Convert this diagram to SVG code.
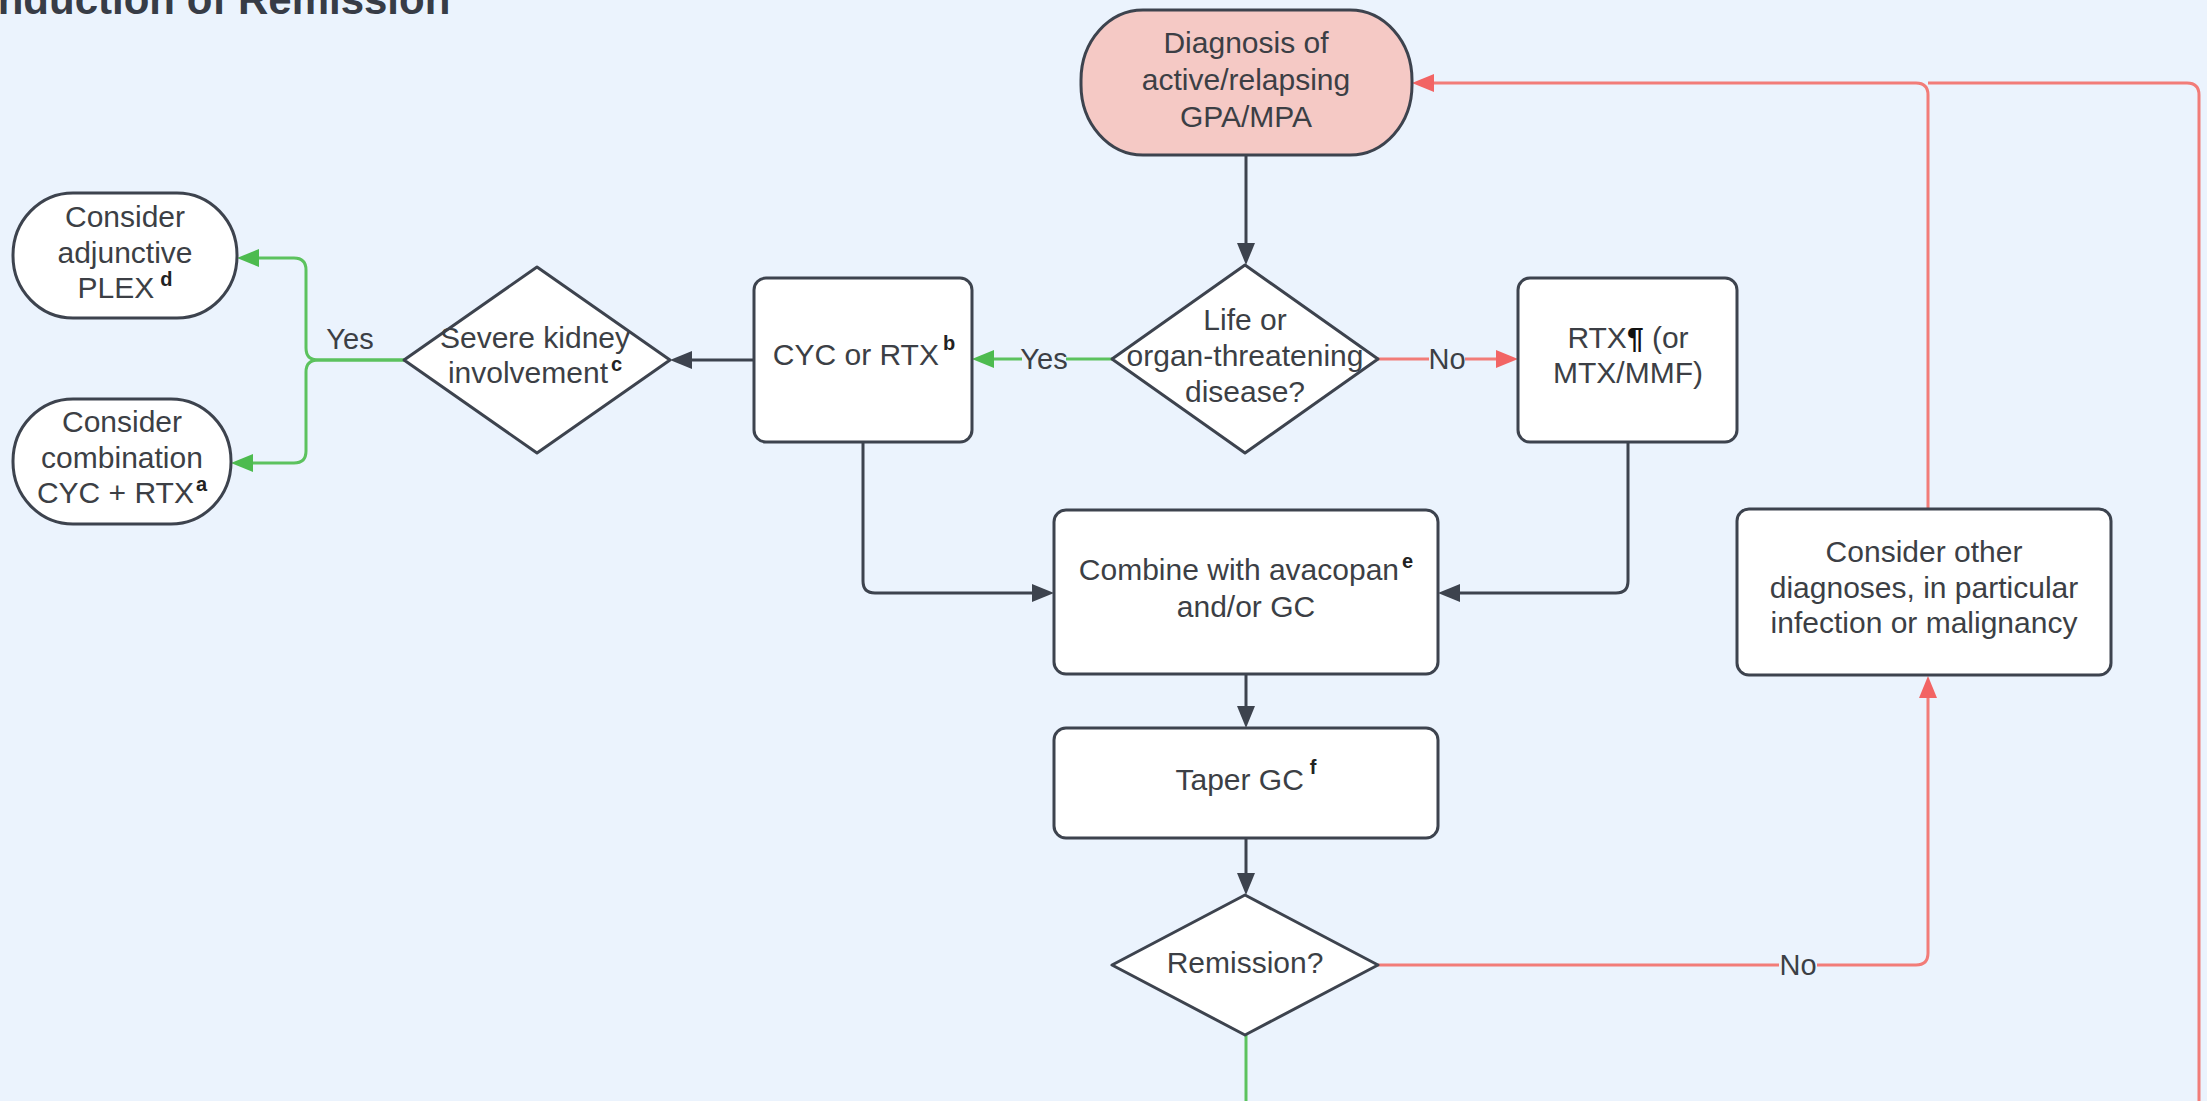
<svg xmlns="http://www.w3.org/2000/svg" width="2207" height="1101" viewBox="0 0 2207 1101">
<defs>
<style>
.bg{fill:#ebf3fd}
.node{fill:#ffffff;stroke:#3d434e;stroke-width:3}
.start{fill:#f5c9c5;stroke:#3d434e;stroke-width:3}
.t{font-family:"Liberation Sans",Arial,sans-serif;font-size:30px;fill:#3c3f45;text-anchor:middle}
.sup{font-size:20px;font-weight:bold;fill:#222}
.lbl{font-family:"Liberation Sans",Arial,sans-serif;font-size:29px;fill:#3c3f45;text-anchor:middle}
.c-dark{fill:none;stroke:#3d434e;stroke-width:3}
.c-green{fill:none;stroke:#5cc25e;stroke-width:3}
.c-red{fill:none;stroke:#f27c78;stroke-width:3}
.title{font-family:"Liberation Sans",Arial,sans-serif;font-size:42px;font-weight:bold;fill:#373c46}
</style>
<marker id="ad" markerWidth="22" markerHeight="18" refX="10" refY="9" orient="auto" markerUnits="userSpaceOnUse"><path d="M0,0 L22,9 L0,18 z" fill="#3d434e"/></marker>
<marker id="ag" markerWidth="22" markerHeight="18" refX="10" refY="9" orient="auto" markerUnits="userSpaceOnUse"><path d="M0,0 L22,9 L0,18 z" fill="#4dbb4f"/></marker>
<marker id="ar" markerWidth="22" markerHeight="18" refX="10" refY="9" orient="auto" markerUnits="userSpaceOnUse"><path d="M0,0 L22,9 L0,18 z" fill="#f26464"/></marker>
</defs>
<rect class="bg" x="0" y="0" width="2207" height="1101"/>
<text class="title" x="-14" y="14">Induction of Remission</text>

<g id="connectors">
<path class="c-dark" d="M1246,155 V253" marker-end="url(#ad)"/>
<path class="c-green" d="M1112,359 H984" marker-end="url(#ag)"/>
<path class="c-red" d="M1378,359 H1506" marker-end="url(#ar)"/>
<path class="c-dark" d="M754,360 H682" marker-end="url(#ad)"/>
<path class="c-green" d="M404,360 H318 Q306,360 306,348 V270 Q306,258 294,258 H249" marker-end="url(#ag)"/>
<path class="c-green" d="M404,360 H318 Q306,360 306,372 V451 Q306,463 294,463 H243" marker-end="url(#ag)"/>
<path class="c-dark" d="M863,442 V581 Q863,593 875,593 H1042" marker-end="url(#ad)"/>
<path class="c-dark" d="M1628,442 V581 Q1628,593 1616,593 H1450" marker-end="url(#ad)"/>
<path class="c-dark" d="M1246,674 V716" marker-end="url(#ad)"/>
<path class="c-dark" d="M1246,838 V883" marker-end="url(#ad)"/>
<path class="c-green" d="M1246,1035 V1101"/>
<path class="c-red" d="M1378,965 H1916 Q1928,965 1928,953 V688" marker-end="url(#ar)"/>
<path class="c-red" d="M2199,1101 V95 Q2199,83 2187,83 H1928"/>
<path class="c-red" d="M1928,509 V95 Q1928,83 1916,83 H1424" marker-end="url(#ar)"/>
<rect class="bg" x="1022" y="340" width="44" height="36"/>
<text class="lbl" x="1044" y="369">Yes</text>
<rect class="bg" x="1429" y="340" width="36" height="36"/>
<text class="lbl" x="1447" y="369">No</text>
<text class="lbl" x="350" y="349">Yes</text>
<rect class="bg" x="1779" y="946" width="38" height="36"/>
<text class="lbl" x="1798" y="975">No</text>
</g>

<g id="n-diagnosis">
<rect class="start" x="1081" y="10" width="331" height="145" rx="62" ry="70"/>
<text class="t" x="1246" y="53">Diagnosis of</text>
<text class="t" x="1246" y="90">active/relapsing</text>
<text class="t" x="1246" y="127">GPA/MPA</text>
</g>

<g id="n-life">
<path class="node" d="M1245,265 L1378,359 L1245,453 L1112,359 Z" stroke-linejoin="round"/>
<text class="t" x="1245" y="330">Life or</text>
<text class="t" x="1245" y="366">organ-threatening</text>
<text class="t" x="1245" y="402">disease?</text>
</g>

<g id="n-cyc">
<rect class="node" x="754" y="278" width="218" height="164" rx="12"/>
<text class="t" x="864" y="365">CYC or RTX<tspan class="sup" dx="4" dy="-15">b</tspan></text>
</g>

<g id="n-rtx">
<rect class="node" x="1518" y="278" width="219" height="164" rx="12"/>
<text class="t" x="1628" y="348">RTX<tspan font-weight="bold" fill="#111">¶</tspan> (or</text>
<text class="t" x="1628" y="383">MTX/MMF)</text>
</g>

<g id="n-kidney">
<path class="node" d="M537,267 L670,360 L537,453 L404,360 Z" stroke-linejoin="round"/>
<text class="t" x="535" y="348">Severe kidney</text>
<text class="t" x="535" y="383">involvement<tspan class="sup" dx="3" dy="-12">c</tspan></text>
</g>

<g id="n-plex">
<rect class="node" x="13" y="193" width="224" height="125" rx="60" ry="62"/>
<text class="t" x="125" y="227">Consider</text>
<text class="t" x="125" y="263">adjunctive</text>
<text class="t" x="125" y="298">PLEX<tspan class="sup" dx="6" dy="-12">d</tspan></text>
</g>

<g id="n-combo">
<rect class="node" x="13" y="399" width="218" height="125" rx="60" ry="62"/>
<text class="t" x="122" y="432">Consider</text>
<text class="t" x="122" y="468">combination</text>
<text class="t" x="122" y="503">CYC + RTX<tspan class="sup" dx="2" dy="-12">a</tspan></text>
</g>

<g id="n-combine">
<rect class="node" x="1054" y="510" width="384" height="164" rx="12"/>
<text class="t" x="1246" y="580">Combine with avacopan<tspan class="sup" dx="3" dy="-12">e</tspan></text>
<text class="t" x="1246" y="617">and/or GC</text>
</g>

<g id="n-taper">
<rect class="node" x="1054" y="728" width="384" height="110" rx="12"/>
<text class="t" x="1246" y="790">Taper GC<tspan class="sup" font-weight="normal" dx="6" dy="-16">f</tspan></text>
</g>

<g id="n-remission">
<path class="node" d="M1245,895 L1378,965 L1245,1035 L1112,965 Z" stroke-linejoin="round"/>
<text class="t" x="1245" y="973">Remission?</text>
</g>

<g id="n-other">
<rect class="node" x="1737" y="509" width="374" height="166" rx="12"/>
<text class="t" x="1924" y="562">Consider other</text>
<text class="t" x="1924" y="598">diagnoses, in particular</text>
<text class="t" x="1924" y="633">infection or malignancy</text>
</g>
</svg>
